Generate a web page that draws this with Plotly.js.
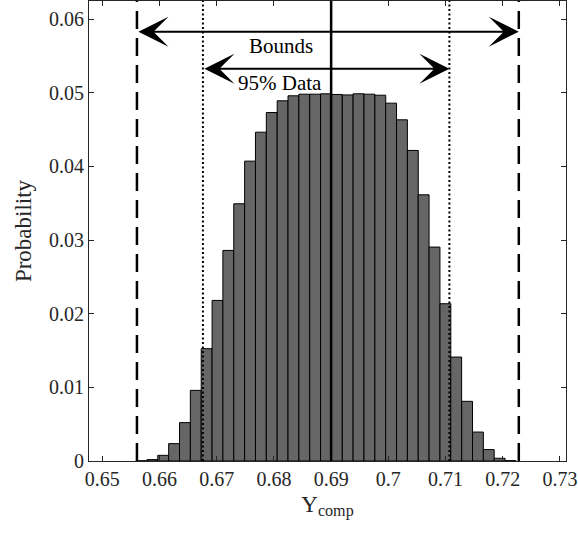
<!DOCTYPE html>
<html>
<head>
<meta charset="utf-8">
<script src="https://cdn.plot.ly/plotly-3.0.1.min.js"></script>
<style>
  html, body { margin: 0; padding: 0; background: #ffffff; }
  #chart { width: 578px; height: 541px; }
</style>
</head>
<body>
<div id="chart"></div>
<script>
// Histogram bin centres (Y_comp) and probabilities
const binCenters = [0.65686, 0.65876, 0.66065, 0.66255, 0.66445, 0.66634, 0.66824, 0.67014,
  0.67203, 0.67393, 0.67583, 0.67772, 0.67962, 0.68152, 0.68341, 0.68531, 0.68721, 0.68910,
  0.69100, 0.69290, 0.69479, 0.69669, 0.69859, 0.70048, 0.70238, 0.70428, 0.70617, 0.70807,
  0.70997, 0.71186, 0.71376, 0.71566, 0.71755, 0.71945, 0.72135];
const probabilities = [0.00003, 0.00019, 0.00077, 0.00236, 0.00521, 0.00959, 0.01525, 0.02180,
  0.02859, 0.03492, 0.04071, 0.04464, 0.04731, 0.04890, 0.04958, 0.04980, 0.04980, 0.04985,
  0.04976, 0.04970, 0.04985, 0.04980, 0.04966, 0.04858, 0.04632, 0.04216, 0.03614, 0.02904,
  0.02135, 0.01411, 0.00810, 0.00393, 0.00155, 0.00037, 0.00005];
const binWidth = 0.001897;

// Reference lines
const meanValue = 0.6900;
const bounds = [0.65606, 0.72280];
const data95 = [0.66759, 0.71067];
const boundsArrowY = 0.05828;
const data95ArrowY = 0.05326;
const labels = ['Bounds', '95% Data'];
const labelPos = [[0.6813, 0.05638], [0.6810, 0.05136]];

const xTicks = [0.65, 0.66, 0.67, 0.68, 0.69, 0.70, 0.71, 0.72, 0.73];
const xTickText = ['0.65', '0.66', '0.67', '0.68', '0.69', '0.7', '0.71', '0.72', '0.73'];
const yTicks = [0, 0.01, 0.02, 0.03, 0.04, 0.05, 0.06];
const yTickText = ['0', '0.01', '0.02', '0.03', '0.04', '0.05', '0.06'];

const FONT = 'Liberation Serif, Times New Roman, serif';

const traces = [{
  type: 'bar',
  x: binCenters,
  y: probabilities,
  width: binWidth,
  marker: { color: '#666666', line: { color: '#000000', width: 1 } },
  hoverinfo: 'x+y'
}];

function vline(x, dash, width) {
  return { type: 'line', xref: 'x', yref: 'paper', x0: x, x1: x, y0: 0, y1: 1,
           line: { color: '#000000', width: width, dash: dash }, layer: 'above' };
}

const shapes = [
  vline(bounds[0], '18px,9px', 2.5),
  vline(bounds[1], '18px,9px', 2.5),
  vline(data95[0], '2px,2.5px', 2),
  vline(data95[1], '2px,2.5px', 2),
  vline(meanValue, 'solid', 2.5)
];

function arrow(x0, x1, y) {
  return { x: x1, y: y, ax: x0, ay: y, xref: 'x', yref: 'y', axref: 'x', ayref: 'y',
           text: '', showarrow: true, arrowside: 'end+start', arrowhead: 3, startarrowhead: 3,
           arrowsize: 2.5, startarrowsize: 2.5, arrowwidth: 2, arrowcolor: '#000000',
           standoff: 0, startstandoff: 0 };
}

const annotations = [
  arrow(bounds[0], bounds[1], boundsArrowY),
  arrow(data95[0], data95[1], data95ArrowY),
  { x: labelPos[0][0], y: labelPos[0][1], xref: 'x', yref: 'y', text: labels[0], showarrow: false,
    font: { family: FONT, size: 21, color: '#000000' } },
  { x: labelPos[1][0], y: labelPos[1][1], xref: 'x', yref: 'y', text: labels[1], showarrow: false,
    font: { family: FONT, size: 21, color: '#000000' } }
];

const axisCommon = {
  showline: true, linecolor: '#262626', linewidth: 1, mirror: 'allticks',
  ticks: 'inside', ticklen: 5, tickwidth: 1, tickcolor: '#262626',
  showgrid: false, zeroline: false,
  tickfont: { family: FONT, size: 20, color: '#262626' }
};

const layout = {
  width: 578, height: 541,
  margin: { l: 89, r: 12, t: 1, b: 80 },
  paper_bgcolor: '#ffffff', plot_bgcolor: '#ffffff',
  showlegend: false,
  bargap: 0,
  xaxis: Object.assign({}, axisCommon, {
    range: [0.64768, 0.73105],
    tickmode: 'array', tickvals: xTicks, ticktext: xTickText,
    title: { text: 'Y<sub>comp</sub>', font: { family: FONT, size: 23, color: '#262626' }, standoff: 6 }
  }),
  yaxis: Object.assign({}, axisCommon, {
    range: [0, 0.06245],
    tickmode: 'array', tickvals: yTicks, ticktext: yTickText,
    title: { text: 'Probability', font: { family: FONT, size: 23, color: '#262626' }, standoff: 10 }
  }),
  shapes: shapes,
  annotations: annotations
};

Plotly.newPlot('chart', traces, layout, { staticPlot: true, displayModeBar: false });
</script>
</body>
</html>
